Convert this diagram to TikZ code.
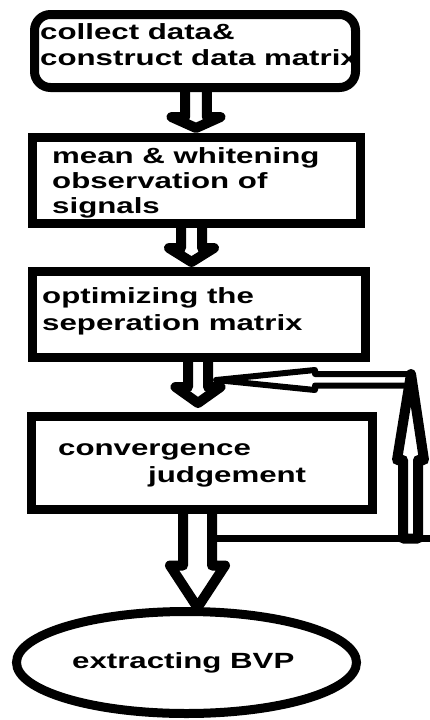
\documentclass[tikz,border=0pt]{standalone}
\usepackage{fontspec}
\setmainfont{Liberation Sans}[FakeStretch=1.42]
\usetikzlibrary{calc,shapes.geometric}

% hollow block arrow pointing down from node #1 to node #2
% #3 x of the axis, #4 shaft half-width, #5 head half-width, #6 head length, #7 gap above the target's border
\newcommand\blockdown[7]{%
  \draw[hollow] let \p1=(#1.south), \p2=(#2.north) in
    (#3pt-#4pt,\y1) -- (#3pt-#4pt,\y2+#7pt+#6pt) -- (#3pt-#5pt,\y2+#7pt+#6pt)
    -- (#3pt,\y2+#7pt)
    -- (#3pt+#5pt,\y2+#7pt+#6pt) -- (#3pt+#4pt,\y2+#7pt+#6pt) -- (#3pt+#4pt,\y1);}

\begin{document}
\begin{tikzpicture}[x=1pt,y=-1pt,
  frame/.style={draw=black,line width=9pt,inner sep=0pt,outer sep=0pt},
  caption/.style={anchor=base west,inner sep=0pt,align=left,
    font=\fontsize{22}{26}\selectfont\bfseries},
  hollow/.style={draw=black,line width=10pt,line join=round},
  loopline/.style={draw=black,line join=round}]
\useasboundingbox (0,0) rectangle (430,720);
\fill[white] (0,0) rectangle (430,720);

% texts of the steps (each placed by the baseline of its last line)
\node[caption] (t1) at (40,65) {collect data\&\\construct data matrix};
\node[caption,font=\fontsize{22}{25}\selectfont\bfseries] (t2) at (52,213)
  {mean \& whitening\\observation of\\signals};
\node[caption,font=\fontsize{22}{27}\selectfont\bfseries] (t3) at (42,330)
  {optimizing the\\seperation matrix};
\node[caption,font=\fontsize{22}{27}\selectfont\bfseries] (t4) at (58,482)
  {convergence\\\hspace*{90pt}judgement};
\node[caption] (t5) at (72,668) {extracting BVP};

% frames of the steps
\node[frame,rounded corners=16pt,minimum width=321pt,minimum height=73pt] (b1) at (195,51) {};
\node[frame,minimum width=328pt,minimum height=86pt] (b2) at (196.5,180.5) {};
\node[frame,minimum width=333pt,minimum height=86pt] (b3) at (199,314.5) {};
\node[frame,minimum width=341pt,minimum height=93pt] (b4) at (202,463) {};
\node[frame,ellipse,minimum width=340pt,minimum height=102pt] (b5) at (186.5,662.5) {};

% flow between the steps
\blockdown{b1}{b2}{196}{10.8}{24.5}{11}{9.5}
\blockdown{b2}{b3}{191.5}{10.5}{22.5}{14}{9.5}
\blockdown{b3}{b4}{198}{10}{22.5}{16}{13.5}
\blockdown{b4}{b5}{197.5}{14.5}{27.5}{42}{4}

% feedback loop from the convergence test back to the optimisation
\coordinate (jn) at (212,538.5);
\coordinate (edge) at (430,538.5);
\draw[loopline,line width=7pt] (jn) -- (edge);
\draw[loopline,line width=10pt] (403,538.5) -- (403,460) -- (397,460) -- (411,374)
  -- (424,460) -- (418,460) -- (418,538.5) -- cycle;
\draw[loopline,line width=6pt] (409,385.5) -- (315,385.5) -- (315,390) -- (216,380)
  -- (315,370) -- (315,374) -- (412,374);
\end{tikzpicture}
\end{document}
